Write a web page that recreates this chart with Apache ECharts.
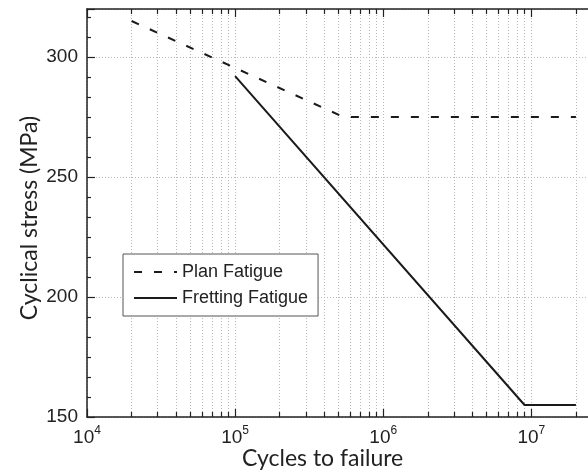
<!DOCTYPE html>
<html>
<head>
<meta charset="utf-8">
<script src="https://cdn.jsdelivr.net/npm/echarts@6/dist/echarts.min.js"></script>
<style>
  html, body { margin: 0; padding: 0; background: #fff; }
  #chart { width: 588px; height: 475px; }
</style>
</head>
<body>
<div id="chart"></div>
<script>
// S-N curves: plain fatigue vs fretting fatigue
const planCycles = [2e4, 5.4e5, 2e7];
const planStress = [315, 275, 275];
const frettingCycles = [1e5, 9e6, 2e7];
const frettingStress = [292, 155, 155];

const xMin = 1e4, xMax = 3e7;
const yMin = 150, yMax = 320, yStep = 50, yMinorParts = 6;
const decadeExponents = [4, 5, 6, 7];
const minorMultipliers = [2, 3, 4, 5, 6, 7, 8, 9];

const FONT = '"Liberation Sans", Arial, sans-serif';
const TITLE_FONT = 'Lato, "Open Sans", sans-serif';
const AXIS_COLOR = '#222';
const GRID_COLOR = '#b8b8b8';

// minor positions inside each decade (2..9 x 10^n)
const xMinorValues = [];
decadeExponents.forEach(e => minorMultipliers.forEach(m => xMinorValues.push(m * Math.pow(10, e))));
const yMinorValues = [];
for (let v = yMin; v < yMax; v += yStep) {
  for (let k = 1; k < yMinorParts; k++) yMinorValues.push(v + k * yStep / yMinorParts);
}

const pairs = (xs, ys) => xs.map((x, i) => [x, ys[i]]);

function decadeLabel(value) {
  const e = Math.log10(value);
  const r = Math.round(e);
  if (Math.abs(e - r) > 1e-6) return '';
  return '{b|10}{s|' + r + '}';
}

const dotted = { color: GRID_COLOR, width: 1, type: [1, 2] };

function xAxisBase(position) {
  return {
    type: 'log', logBase: 10, min: xMin, max: xMax, position: position,
    axisLine: { show: true, lineStyle: { color: AXIS_COLOR, width: 1.5 } },
    axisLabel: { show: false },
    splitLine: { show: false },
    minorTick: { show: false }
  };
}

const chart = echarts.init(document.getElementById('chart'), null, { renderer: 'canvas' });
chart.setOption({
  backgroundColor: '#fff',
  animation: false,
  // the plot box runs past the right edge of the canvas
  grid: { left: 87, top: 9, height: 408, width: 515, containLabel: false, outerBoundsMode: 'none' },
  xAxis: [
    Object.assign(xAxisBase('bottom'), {
      axisTick: { show: true, inside: true, length: 8, lineStyle: { color: AXIS_COLOR, width: 1.2 } },
      axisLabel: {
        show: true, margin: 8, formatter: decadeLabel,
        rich: {
          b: { fontFamily: FONT, fontSize: 19, color: AXIS_COLOR, lineHeight: 22, verticalAlign: 'bottom' },
          s: { fontFamily: FONT, fontSize: 12, color: AXIS_COLOR, lineHeight: 12, verticalAlign: 'top' }
        }
      },
      splitLine: { show: true, lineStyle: dotted }
    }),
    Object.assign(xAxisBase('bottom'), {
      axisLine: { show: false },
      axisTick: { show: true, inside: true, length: 5, customValues: xMinorValues, lineStyle: { color: AXIS_COLOR, width: 1.2 } },
      splitLine: { show: true, lineStyle: dotted }
    }),
    Object.assign(xAxisBase('top'), {
      axisTick: { show: true, inside: true, length: 8, lineStyle: { color: AXIS_COLOR, width: 1.2 } }
    }),
    Object.assign(xAxisBase('top'), {
      axisLine: { show: false },
      axisTick: { show: true, inside: true, length: 5, customValues: xMinorValues, lineStyle: { color: AXIS_COLOR, width: 1.2 } }
    })
  ],
  yAxis: [
    {
      type: 'value', min: yMin, max: yMax, interval: yStep, position: 'left',
      axisLine: { show: true, lineStyle: { color: AXIS_COLOR, width: 1.5 } },
      axisTick: { show: true, inside: true, length: 8, lineStyle: { color: AXIS_COLOR, width: 1.2 } },
      axisLabel: {
        margin: 9, fontFamily: FONT, fontSize: 19, color: AXIS_COLOR,
        formatter: v => (v % yStep === 0 ? String(v) : '')
      },
      splitLine: { show: true, lineStyle: dotted }
    },
    {
      type: 'value', min: yMin, max: yMax, position: 'left',
      axisLine: { show: false },
      axisTick: { show: true, inside: true, length: 4, customValues: yMinorValues, lineStyle: { color: AXIS_COLOR, width: 1.2 } },
      axisLabel: { show: false },
      splitLine: { show: false }
    }
  ],
  legend: {
    orient: 'vertical', left: 123, top: 254,
    padding: [9, 10, 9, 10], itemGap: 8, itemWidth: 43, itemHeight: 14,
    backgroundColor: '#fff', borderColor: '#555', borderWidth: 1, borderRadius: 0,
    itemStyle: { opacity: 0 },
    textStyle: { fontFamily: FONT, fontSize: 18, color: AXIS_COLOR },
    data: ['Plan Fatigue', 'Fretting Fatigue']
  },
  series: [
    {
      name: 'Plan Fatigue', type: 'line', xAxisIndex: 0, yAxisIndex: 0,
      data: pairs(planCycles, planStress), symbol: 'none', silent: true,
      lineStyle: { color: '#1a1a1a', width: 2, type: [8, 12] },
      itemStyle: { color: '#1a1a1a' }
    },
    {
      name: 'Fretting Fatigue', type: 'line', xAxisIndex: 0, yAxisIndex: 0,
      data: pairs(frettingCycles, frettingStress), symbol: 'none', silent: true,
      lineStyle: { color: '#1a1a1a', width: 2 },
      itemStyle: { color: '#1a1a1a' }
    }
  ],
  graphic: [
    {
      type: 'text', left: 242, top: 447,
      style: { text: 'Cycles to failure', font: '23px ' + TITLE_FONT, fill: AXIS_COLOR }
    },
    {
      type: 'text', rotation: Math.PI / 2, x: 18, y: 218,
      style: { text: 'Cyclical stress (MPa)', font: '23px ' + TITLE_FONT, fill: AXIS_COLOR, textAlign: 'center', textVerticalAlign: 'top' }
    }
  ]
});
</script>
</body>
</html>
